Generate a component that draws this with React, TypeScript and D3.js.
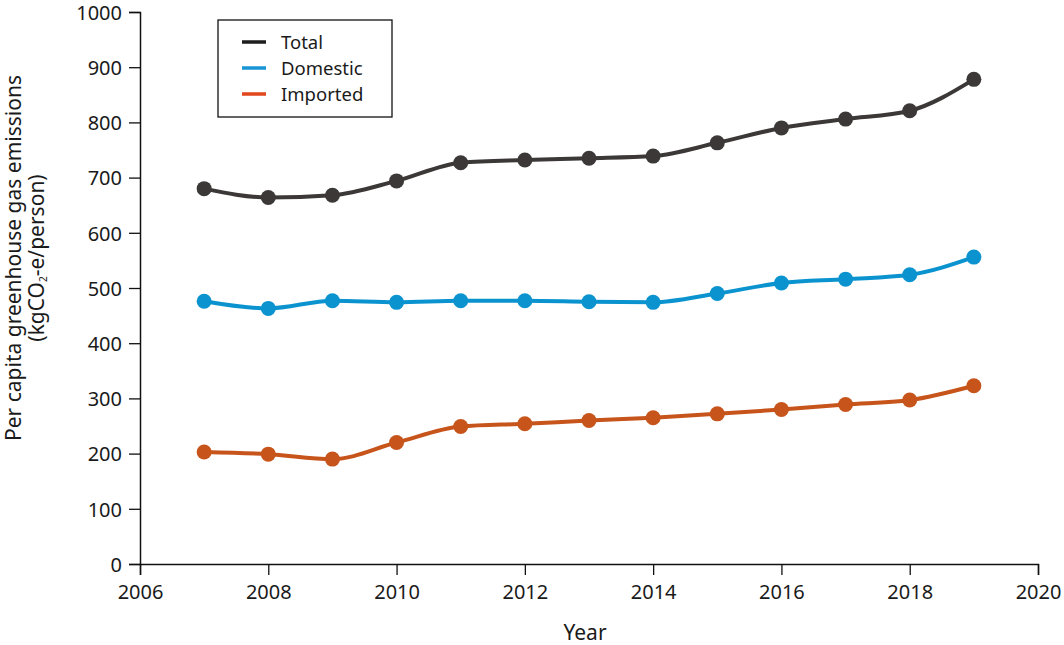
import React, { useRef, useEffect } from "react";
import * as d3 from "d3";

const years = [2007, 2008, 2009, 2010, 2011, 2012, 2013, 2014, 2015, 2016, 2017, 2018, 2019];
const total = [680, 664, 668, 694, 727, 732, 735, 739, 763, 790, 806, 821, 878];
const domestic = [476, 463, 477, 474, 477, 477, 475, 474, 490, 509, 516, 524, 556];
const imported = [203, 199, 190, 220, 249, 254, 260, 265, 272, 280, 289, 297, 323];
const yTicks = [0, 100, 200, 300, 400, 500, 600, 700, 800, 900, 1000];
const xTicks = [2006, 2008, 2010, 2012, 2014, 2016, 2018, 2020];

const seriesList = [
  { name: "Total", values: total, color: "#3b3837", legendColor: "#1d1d1d" },
  { name: "Domestic", values: domestic, color: "#0a93cf", legendColor: "#1a95d4" },
  { name: "Imported", values: imported, color: "#c6541b", legendColor: "#e2461c" },
];

const FONT = "'Noto Sans', sans-serif";

const App = () => {
  const svgRef = useRef(null);

  useEffect(() => {
    if (!svgRef.current) return;
    const width = 1064;
    const height = 645;
    const margin = { top: 12, right: 26, bottom: 81, left: 140 };

    const svg = d3.select(svgRef.current).attr("width", width).attr("height", height);
    svg.selectAll("*").remove();

    const x = d3.scaleLinear().domain([2006, 2020]).range([margin.left, width - margin.right]);
    const y = d3.scaleLinear().domain([0, 1000]).range([height - margin.bottom, margin.top]);

    // axes
    const yAxis = svg
      .append("g")
      .attr("transform", `translate(${margin.left},0)`)
      .call(d3.axisLeft(y).tickValues(yTicks).tickSize(11).tickPadding(7).tickFormat(d3.format("d")));
    const xAxis = svg
      .append("g")
      .attr("transform", `translate(0,${height - margin.bottom})`)
      .call(d3.axisBottom(x).tickValues(xTicks).tickSize(11).tickPadding(10).tickFormat(d3.format("d")));

    [yAxis, xAxis].forEach((a) => {
      a.select(".domain").attr("stroke", "#111").attr("stroke-width", 1.5);
      a.selectAll(".tick line").attr("stroke", "#111").attr("stroke-width", 1.3);
      a.selectAll(".tick text")
        .attr("fill", "#1a1a1a")
        .style("font-family", FONT)
        .style("font-size", "20px");
    });
    yAxis.selectAll(".tick text").attr("dy", "0.36em");

    // lines
    const line = d3
      .line<number>()
      .x((d, i) => x(years[i]))
      .y((d) => y(d))
      .curve(d3.curveMonotoneX);

    seriesList.forEach((s) => {
      svg
        .append("path")
        .datum(s.values)
        .attr("fill", "none")
        .attr("stroke", s.color)
        .attr("stroke-width", 4)
        .attr("d", line);
      svg
        .append("g")
        .selectAll("circle")
        .data(s.values)
        .enter()
        .append("circle")
        .attr("cx", (d, i) => x(years[i]))
        .attr("cy", (d) => y(d))
        .attr("r", 7.5)
        .attr("fill", s.color);
    });

    // legend
    const legend = svg.append("g").attr("transform", "translate(218,20)");
    legend
      .append("rect")
      .attr("width", 174)
      .attr("height", 97)
      .attr("fill", "white")
      .attr("stroke", "#111")
      .attr("stroke-width", 1.3);
    seriesList.forEach((s, i) => {
      const g = legend.append("g").attr("transform", `translate(0,${22 + i * 26})`);
      g.append("line")
        .attr("x1", 24)
        .attr("x2", 48)
        .attr("y1", 0)
        .attr("y2", 0)
        .attr("stroke", s.legendColor)
        .attr("stroke-width", 3.5);
      g.append("text")
        .attr("x", 63)
        .attr("y", 0)
        .attr("dy", "0.36em")
        .attr("fill", "#1a1a1a")
        .style("font-family", FONT)
        .style("font-size", "18.5px")
        .text(s.name);
    });

    // axis titles
    svg
      .append("text")
      .attr("x", (margin.left + width - margin.right) / 2 - 4)
      .attr("y", 640)
      .attr("text-anchor", "middle")
      .attr("fill", "#1a1a1a")
      .style("font-family", FONT)
      .style("font-size", "21px")
      .text("Year");

    const yl = svg
      .append("g")
      .attr("transform", "translate(0,258) rotate(-90)")
      .style("font-family", FONT)
      .style("font-size", "21px")
      .attr("fill", "#1a1a1a");
    yl.append("text").attr("x", 0).attr("y", 21).attr("text-anchor", "middle").text("Per capita greenhouse gas emissions");
    const t2 = yl.append("text").attr("x", 0).attr("y", 44).attr("text-anchor", "middle");
    t2.append("tspan").text("(kgCO");
    t2.append("tspan").attr("font-size", "10px").attr("dy", "3").text("2");
    t2.append("tspan").attr("dy", "-3").text("-e/person)");
  }, []);

  return (
    <div style={{ position: "absolute", left: 0, top: 0 }}>
      <svg ref={svgRef} style={{ display: "block", background: "white" }} />
    </div>
  );
};

export default App;
